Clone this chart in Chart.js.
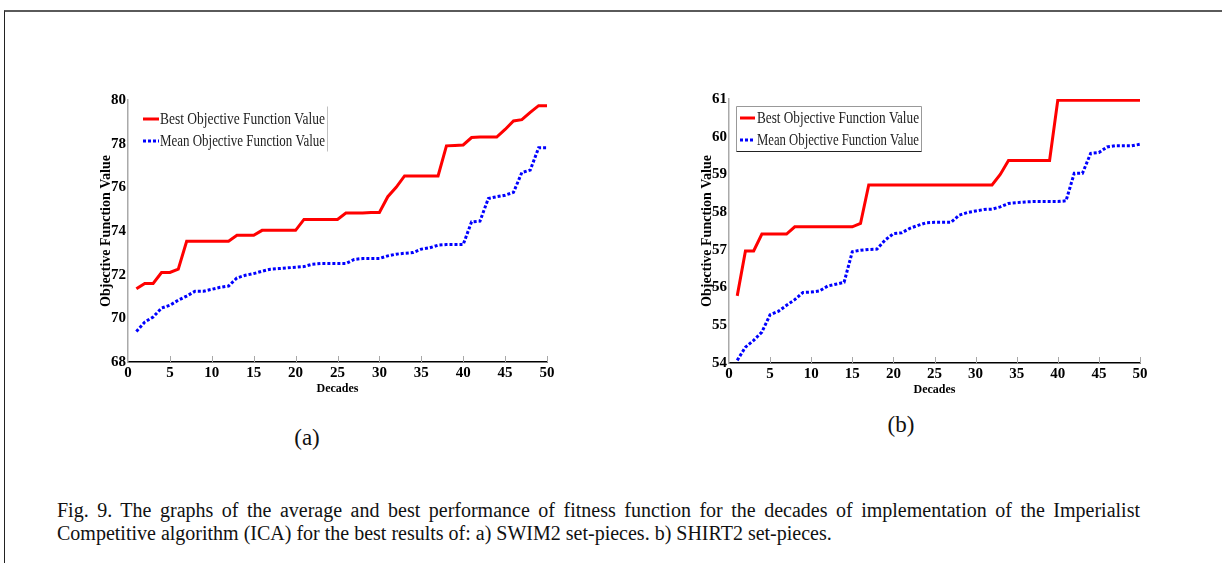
<!DOCTYPE html>
<html>
<head>
<meta charset="utf-8">
<script src="https://cdn.jsdelivr.net/npm/chart.js@4/dist/chart.umd.min.js"></script>
<style>
  body { margin: 0; background: #fff; width: 1222px; height: 563px; overflow: hidden; position: relative; font-family: 'Liberation Serif', serif; }
  .frame { position: absolute; left: 4px; top: 10px; width: 1240px; height: 580px; border-top: 2px solid #5a5a5a; border-left: 1px solid #222; }
  canvas { position: absolute; }
  .sub { position: absolute; font-size: 23px; color: #111; transform: translate(-50%, -50%); }
  .cap { position: absolute; left: 57px; width: 1083px; font-size: 20px; line-height: 23px; color: #111; white-space: nowrap; }
  .just { text-align: justify; text-align-last: justify; white-space: normal; }
</style>
</head>
<body>
<div class="frame"></div>
<canvas id="chartA" width="530" height="330" style="left:40px; top:80px"></canvas>
<canvas id="chartB" width="530" height="330" style="left:640px; top:80px"></canvas>
<div class="sub" style="left:307px; top:438px">(a)</div>
<div class="sub" style="left:901px; top:425px">(b)</div>
<div class="cap just" style="top:499px">Fig. 9. The graphs of the average and best performance of fitness function for the decades of implementation of the Imperialist</div>
<div class="cap" style="top:522px">Competitive algorithm (ICA) for the best results of: a) SWIM2 set-pieces. b) SHIRT2 set-pieces.</div>
<script>
const seriesNames = ['Best Objective Function Value', 'Mean Objective Function Value'];

const decades = [1, 2, 3, 4, 5, 6, 7, 8, 9, 10, 11, 12, 13, 14, 15, 16, 17, 18, 19, 20,
                 21, 22, 23, 24, 25, 26, 27, 28, 29, 30, 31, 32, 33, 34, 35, 36, 37, 38, 39, 40,
                 41, 42, 43, 44, 45, 46, 47, 48, 49, 50];

// (a) SWIM2
const bestA = [71.35, 71.6, 71.6, 72.1, 72.1, 72.25, 73.53, 73.53, 73.53, 73.53,
               73.53, 73.53, 73.8, 73.8, 73.8, 74.03, 74.03, 74.03, 74.03, 74.03,
               74.53, 74.53, 74.53, 74.53, 74.53, 74.82, 74.82, 74.82, 74.85, 74.85,
               75.57, 76.0, 76.52, 76.52, 76.52, 76.52, 76.52, 77.9, 77.92, 77.94,
               78.28, 78.3, 78.3, 78.3, 78.65, 79.04, 79.1, 79.43, 79.74, 79.74];
const meanA = [69.4, 69.83, 70.06, 70.47, 70.6, 70.83, 71.02, 71.24, 71.24, 71.33,
               71.42, 71.48, 71.85, 71.97, 72.05, 72.16, 72.25, 72.28, 72.31, 72.34,
               72.37, 72.48, 72.51, 72.51, 72.51, 72.51, 72.7, 72.74, 72.74, 72.74,
               72.86, 72.94, 72.98, 73.01, 73.17, 73.23, 73.35, 73.38, 73.38, 73.38,
               74.42, 74.45, 75.49, 75.57, 75.64, 75.77, 76.68, 76.79, 77.81, 77.81];

// (b) SHIRT2
const bestB = [55.78, 56.97, 56.97, 57.42, 57.42, 57.42, 57.42, 57.61, 57.61, 57.61,
               57.61, 57.61, 57.61, 57.61, 57.61, 57.7, 58.72, 58.72, 58.72, 58.72,
               58.72, 58.72, 58.72, 58.72, 58.72, 58.72, 58.72, 58.72, 58.72, 58.72,
               58.72, 58.72, 59.0, 59.37, 59.37, 59.37, 59.37, 59.37, 59.37, 60.97,
               60.97, 60.97, 60.97, 60.97, 60.97, 60.97, 60.97, 60.97, 60.97, 60.97];
const meanB = [54.07, 54.42, 54.6, 54.82, 55.28, 55.37, 55.53, 55.68, 55.87, 55.88,
               55.91, 56.04, 56.09, 56.14, 56.95, 56.99, 57.01, 57.02, 57.26, 57.43,
               57.45, 57.57, 57.65, 57.72, 57.73, 57.73, 57.73, 57.92, 57.99, 58.03,
               58.07, 58.08, 58.14, 58.23, 58.25, 58.27, 58.28, 58.28, 58.28, 58.28,
               58.3, 59.03, 59.03, 59.56, 59.58, 59.73, 59.76, 59.76, 59.76, 59.8];

const xTicks = { min: 0, max: 50, step: 5 };
const yTicksA = { min: 68, max: 80, step: 2 };
const yTicksB = { min: 54, max: 61, step: 1 };

// small inward tick marks on the x axis, as in the matlab figure
const insideTicks = {
    id: 'insideTicks',
    afterDraw(chart) {
        const ctx = chart.ctx, x = chart.scales.x, area = chart.chartArea;
        ctx.save();
        ctx.strokeStyle = '#a8a8a8';
        ctx.lineWidth = 1;
        x.ticks.forEach(t => {
            if (t.value === 0) return;
            const px = Math.round(x.getPixelForValue(t.value)) + 0.5;
            ctx.beginPath();
            ctx.moveTo(px, area.bottom);
            ctx.lineTo(px, area.bottom - 6);
            ctx.stroke();
        });
        ctx.restore();
    }
};

// legend box inside the plot area
const boxLegend = {
    id: 'boxLegend',
    afterDraw(chart, args, opts) {
        const ctx = chart.ctx, a = chart.chartArea;
        const L = a.left + opts.dx, T = a.top + opts.dy, R = L + opts.w, B = T + opts.h;
        ctx.save();
        ctx.lineWidth = 1;
        const edges = {
            top: [L, T, R, T], bottom: [L, B, R, B],
            left: [L, T, L, B], right: [R, T, R, B]
        };
        opts.sides.forEach(s => {
            const e = edges[s];
            ctx.strokeStyle = (opts.colors && opts.colors[s]) || opts.edge;
            ctx.beginPath();
            ctx.moveTo(Math.round(e[0]) + 0.5, Math.round(e[1]) + 0.5);
            ctx.lineTo(Math.round(e[2]) + 0.5, Math.round(e[3]) + 0.5);
            ctx.stroke();
        });
        chart.data.datasets.forEach((ds, i) => {
            const y = T + opts.rows[i];
            ctx.strokeStyle = ds.borderColor;
            ctx.lineWidth = ds.borderWidth;
            ctx.setLineDash(ds.borderDash || []);
            ctx.beginPath();
            ctx.moveTo(L + opts.lineX0, y);
            ctx.lineTo(L + opts.lineX1, y);
            ctx.stroke();
            ctx.setLineDash([]);
            ctx.font = '16px "Liberation Serif"';
            ctx.fillStyle = '#222';
            ctx.textBaseline = 'middle';
            const w = ctx.measureText(ds.label).width;
            ctx.fillText(ds.label, L + opts.textX, y + 1, Math.min(w * 0.85, opts.w - opts.textX - 2));
        });
        ctx.restore();
    }
};

const tickFont = { family: 'Liberation Serif', weight: 'bold', size: 15 };

function drawPanel(id, best, mean, yRange, pad, legendOpts) {
    new Chart(document.getElementById(id), {
        type: 'line',
        data: {
            datasets: [{
                label: seriesNames[0],
                data: decades.map((d, i) => ({ x: d, y: best[i] })),
                borderColor: '#ff0000',
                borderWidth: 3,
                pointRadius: 0,
                tension: 0
            }, {
                label: seriesNames[1],
                data: decades.map((d, i) => ({ x: d, y: mean[i] })),
                borderColor: '#0000ff',
                borderWidth: 3,
                borderDash: [3, 2],
                pointRadius: 0,
                tension: 0
            }]
        },
        options: {
            responsive: false,
            animation: false,
            layout: { padding: pad },
            plugins: {
                legend: { display: false },
                tooltip: { enabled: false },
                boxLegend: legendOpts
            },
            scales: {
                x: {
                    type: 'linear',
                    min: xTicks.min,
                    max: xTicks.max,
                    afterFit: s => { s.height = 36; },
                    grid: { display: false, drawTicks: false },
                    border: { color: '#000', width: 1.5 },
                    ticks: { stepSize: xTicks.step, padding: 2, color: '#000', font: tickFont },
                    title: {
                        display: true,
                        text: 'Decades',
                        color: '#000',
                        font: { family: 'Liberation Serif', weight: 'bold', size: 12 },
                        padding: { top: 0, bottom: 2 }
                    }
                },
                y: {
                    min: yRange.min,
                    max: yRange.max,
                    afterFit: s => { s.width = 30; },
                    grid: { display: false, drawTicks: false },
                    border: { color: '#aaa', width: 1.5 },
                    ticks: { stepSize: yRange.step, padding: 2, color: '#000', font: tickFont },
                    title: {
                        display: true,
                        text: 'Objective Function Value',
                        color: '#000',
                        font: { family: 'Liberation Serif', weight: 'bold', size: 14 },
                        padding: { top: 0, bottom: 0 }
                    }
                }
            }
        },
        plugins: [insideTicks, boxLegend]
    });
}

drawPanel('chartA', bestA, meanA, yTicksA,
    { left: 58, top: 20, right: 23, bottom: 12 },
    { dx: 14, dy: 6, w: 185, h: 45, sides: ['right'], edge: '#c0c0c0',
      rows: [13, 35], lineX0: 1, lineX1: 17, textX: 18 });

drawPanel('chartB', bestB, meanB, yTicksB,
    { left: 59, top: 19, right: 30, bottom: 11 },
    { dx: 7, dy: 7, w: 185, h: 45, sides: ['top', 'left', 'right', 'bottom'], edge: '#999',
      colors: { bottom: '#222' },
      rows: [12, 34], lineX0: 4, lineX1: 19, textX: 21 });
</script>
</body>
</html>
